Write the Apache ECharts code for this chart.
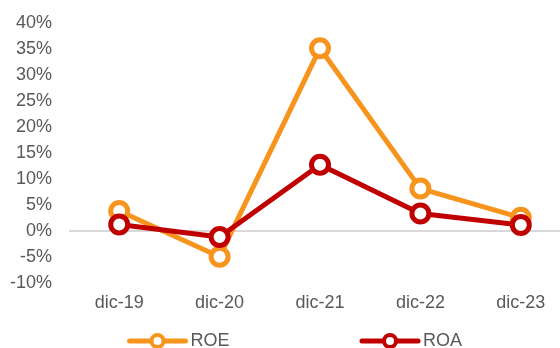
<!DOCTYPE html>
<html>
<head>
<meta charset="utf-8">
<script src="https://cdn.jsdelivr.net/npm/echarts@6/dist/echarts.min.js"></script>
<style>
html,body{margin:0;padding:0;background:#fff;}
#chart{width:560px;height:348px;}
</style>
</head>
<body>
<div id="chart"></div>
<script>
var categories = ['dic-19', 'dic-20', 'dic-21', 'dic-22', 'dic-23'];
var roe = [3.8, -5.0, 35.1, 8.1, 2.5];
var roa = [1.2, -1.2, 12.7, 3.3, 1.1];
var seriesNames = ['ROE', 'ROA'];
var seriesColors = ['#F7941D', '#C00000'];

var font = 'Liberation Sans, Arial, sans-serif';
var chart = echarts.init(document.getElementById('chart'), null, {renderer: 'canvas'});

function makeSeries(name, data, color, withZero) {
  var s = {
    name: name,
    type: 'line',
    data: data,
    symbol: 'circle',
    symbolSize: 17,
    showAllSymbol: true,
    lineStyle: {color: color, width: 5},
    itemStyle: {color: '#ffffff', borderColor: color, borderWidth: 5},
    emphasis: {disabled: true},
    z: withZero ? 3 : 4
  };
  if (withZero) {
    s.markLine = {
      silent: true,
      symbol: ['none', 'none'],
      label: {show: false},
      lineStyle: {color: '#d9d9d9', width: 2, type: 'solid'},
      data: [{yAxis: 0}],
      z: 1
    };
  }
  return s;
}

chart.setOption({
  animation: false,
  grid: {left: 69, width: 502, top: 22.7, bottom: 65.3, containLabel: false, outerBoundsMode: 'none'},
  legend: {
    left: 122,
    top: 327,
    itemWidth: 56,
    itemHeight: 15,
    itemGap: 130,
    lineStyle: {width: 5, cap: 'round'},
    itemStyle: {borderWidth: 4},
    textStyle: {fontFamily: font, fontSize: 18, color: '#595959'},
    data: seriesNames
  },
  xAxis: {
    type: 'category',
    data: categories,
    boundaryGap: true,
    axisLine: {show: false, onZero: false},
    axisTick: {show: false},
    axisLabel: {fontFamily: font, fontSize: 18, color: '#595959', margin: 11}
  },
  yAxis: {
    type: 'value',
    min: -10,
    max: 40,
    interval: 5,
    axisLine: {show: false},
    axisTick: {show: false},
    splitLine: {show: false},
    axisLabel: {fontFamily: font, fontSize: 18, color: '#595959', margin: 17,
      formatter: function (v) { return v + '%'; }}
  },
  series: [
    makeSeries(seriesNames[0], roe, seriesColors[0], true),
    makeSeries(seriesNames[1], roa, seriesColors[1], false)
  ]
});
</script>
</body>
</html>
